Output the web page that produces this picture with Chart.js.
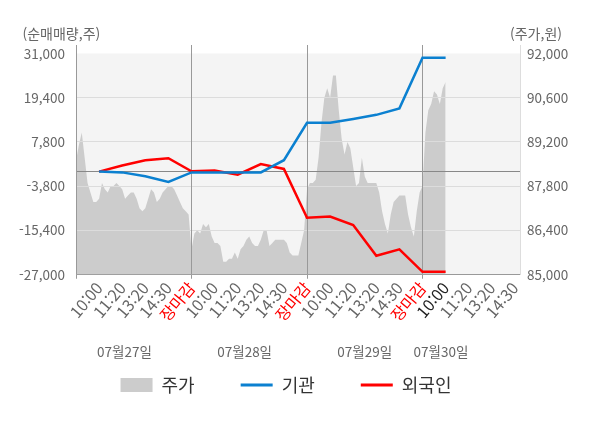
<!DOCTYPE html>
<html lang="ko">
<head>
<meta charset="utf-8">
<title>순매매량 / 주가</title>
<script src="https://cdn.jsdelivr.net/npm/chart.js@4.4.1/dist/chart.umd.min.js"></script>
<style>
    html, body { margin: 0; padding: 0; background: #fff; }
    #wrap { width: 600px; height: 428px; }
</style>
</head>
<body>
<div id="wrap"><canvas id="flowChart" width="600" height="428"></canvas></div>
<script>
// x axis: one unit per time slot, five slots per trading day
const slotLabels = ['', '10:00', '11:20', '13:20', '14:30', '장마감',
                    '10:00', '11:20', '13:20', '14:30', '장마감',
                    '10:00', '11:20', '13:20', '14:30', '장마감',
                    '10:00', '11:20', '13:20', '14:30'];
const closeLabel = '장마감';
const currentSlot = 16;
const dayLabels = ['07월27일', '07월28일', '07월29일', '07월30일'];
const dayLabelAt = [2.1, 7.3, 12.5, 15.8];

// net buying (주) per slot, 07/27 10:00 .. 07/30 10:00
const instNet = [0, -200, -1200, -2700, -200, -200, -200, -200,
                 3000, 12800, 12800, 13800, 14900, 16600, 29900, 29900];
const foreignNet = [0, 1600, 3000, 3500, 100, 300, -800, 2000,
                    700, -12100, -11800, -14000, -22100, -20400, -26300, -26300];

// price (원), one reading every 1/8 slot
const priceDay1 = [88600, 89100, 89500, 88700, 87900, 87600, 87300, 87300,
                   87400, 87900, 87700, 87600, 87800, 87800, 87900, 87800,
                   87700, 87400, 87500, 87600, 87600, 87400, 87100, 87000,
                   87100, 87400, 87700, 87600, 87300, 87400, 87600, 87700,
                   87800, 87800, 87700, 87500, 87300, 87100, 87000, 86900];
const priceDay2 = [85800, 86300, 86400, 86300, 86600, 86500, 86600, 86200,
                   86000, 86000, 85900, 85400, 85400, 85500, 85500, 85700,
                   85500, 85800, 85900, 86100, 86200, 86000, 85900, 85900,
                   86100, 86400, 86400, 85900, 86000, 86100, 86100, 86100,
                   86100, 86000, 85700, 85600, 85600, 85600, 86000, 86400];
const priceDay3 = [87700, 87900, 87900, 88000, 88700, 89800, 90600, 90900,
                   90600, 91300, 91300, 90200, 89300, 88800, 89200, 89000,
                   88400, 87800, 87900, 88700, 88100, 87900, 87900, 87900,
                   87900, 87600, 87000, 86600, 86300, 86900, 87300, 87400,
                   87500, 87500, 87500, 86900, 86500, 86200, 87000, 87600];
const priceDay4 = [87800, 89500, 90200, 90400, 90800, 90700, 90400, 90900, 91100];

const volTicks = [-27000, -15400, -3800, 0, 7800, 19400, 31000];
const priceTicks = [85000, 86400, 87800, 89200, 90600, 92000];

// layout / style
const slotsPerDay = 5;
const priceStep = 0.125;
const xMax = 19.22;
const headroom = 0.192;
const fontFamily = "'Noto Sans CJK KR', 'Noto Sans', sans-serif";
const blue = '#0b80d0';
const red = '#ff0000';

const topOf = ticks => ticks[ticks.length - 1] + (ticks[ticks.length - 1] - ticks[ticks.length - 2]) * headroom;
const linePoints = values => values.map((v, i) => ({ x: i + 1, y: v }));
const pricePoints = [priceDay1, priceDay2, priceDay3, priceDay4]
    .flatMap((day, d) => day.map((v, i) => ({ x: d * slotsPerDay + i * priceStep, y: v })));
const fmt = v => v.toLocaleString('en-US');

Chart.defaults.font.family = fontFamily;

// light plot background, starting at the top grid line
const plotBackground = {
    id: 'plotBackground',
    beforeDraw(chart) {
        const { ctx, chartArea: a, scales: { y } } = chart;
        const top = y.getPixelForValue(volTicks[volTicks.length - 1]);
        ctx.save();
        ctx.fillStyle = '#f4f4f4';
        ctx.fillRect(a.left, top, a.right - a.left, a.bottom - top);
        ctx.restore();
    }
};

// grid shows through the price area, lines stay on top
const gridOverPrice = {
    id: 'gridOverPrice',
    afterDatasetDraw(chart, args) {
        if (args.index !== 0) return;
        chart.scales.y.drawGrid(chart.chartArea);
        chart.scales.x.drawGrid(chart.chartArea);
    }
};

// unit captions above both y axes, day names under the time labels
const extraText = {
    id: 'extraText',
    afterDraw(chart) {
        const { ctx, chartArea: a, scales: { x } } = chart;
        ctx.save();
        ctx.font = '14px ' + fontFamily;
        ctx.fillStyle = '#666';
        ctx.textBaseline = 'middle';
        ctx.textAlign = 'left';
        ctx.fillText('(순매매량,주)', a.left - 53.5, a.top - 11);
        ctx.textAlign = 'right';
        ctx.fillText('(주가,원)', a.right + 42, a.top - 11);
        ctx.font = '13.5px ' + fontFamily;
        ctx.textAlign = 'center';
        dayLabels.forEach((t, i) => ctx.fillText(t, x.getPixelForValue(dayLabelAt[i]), a.bottom + 77.5));
        ctx.restore();
    }
};

new Chart(document.getElementById('flowChart'), {
    type: 'line',
    data: {
        datasets: [
            {
                label: '주가',
                data: pricePoints,
                yAxisID: 'y2',
                fill: 'start',
                backgroundColor: '#cccccc',
                borderColor: 'transparent',
                borderWidth: 0,
                pointRadius: 0,
                order: 3
            },
            {
                label: '기관',
                data: linePoints(instNet),
                yAxisID: 'y',
                borderColor: blue,
                borderWidth: 2.5,
                pointRadius: 0,
                fill: false,
                order: 1
            },
            {
                label: '외국인',
                data: linePoints(foreignNet),
                yAxisID: 'y',
                borderColor: red,
                borderWidth: 2.5,
                pointRadius: 0,
                fill: false,
                order: 2
            }
        ]
    },
    options: {
        responsive: false,
        animation: false,
        layout: { padding: { top: 45, right: 28, bottom: 24, left: 0 } },
        plugins: {
            tooltip: { enabled: false },
            legend: {
                position: 'bottom',
                labels: {
                    usePointStyle: true,
                    pointStyleWidth: 32,
                    boxHeight: 14,
                    padding: 46,
                    font: { family: fontFamily, size: 18 },
                    generateLabels: chart => chart.data.datasets.map((ds, i) => ({
                        text: ds.label,
                        datasetIndex: i,
                        fillStyle: ds.fill ? ds.backgroundColor : ds.borderColor,
                        strokeStyle: ds.fill ? ds.backgroundColor : ds.borderColor,
                        lineWidth: ds.fill ? 0 : 3,
                        pointStyle: ds.fill ? 'rect' : 'line',
                        fontColor: '#333',
                        hidden: false
                    }))
                }
            }
        },
        scales: {
            x: {
                type: 'linear',
                min: 0,
                max: xMax,
                afterBuildTicks: s => { s.ticks = slotLabels.map((_, i) => ({ value: i })); },
                afterFit: s => { s.height = 55.5; },
                grid: {
                    color: c => (c.tick && c.tick.value % slotsPerDay === 0) ? '#999' : 'transparent',
                    tickLength: 4
                },
                border: { color: '#999' },
                ticks: {
                    autoSkip: false,
                    minRotation: 50,
                    maxRotation: 50,
                    padding: 0,
                    font: { size: 16 },
                    color: c => c.index === currentSlot ? '#222'
                        : (slotLabels[c.index] === closeLabel ? red : '#666'),
                    callback: (v, i) => slotLabels[i]
                }
            },
            y: {
                position: 'left',
                min: volTicks[0],
                max: topOf(volTicks),
                afterBuildTicks: s => { s.ticks = volTicks.map(v => ({ value: v })); },
                afterFit: s => { s.width = 76; },
                grid: {
                    drawTicks: false,
                    color: c => {
                        const v = c.tick ? c.tick.value : null;
                        if (v === 0) return '#888';
                        if (v === volTicks[0] || v === volTicks[volTicks.length - 1]) return 'transparent';
                        return '#dcdcdc';
                    }
                },
                border: { color: '#999' },
                ticks: {
                    padding: 11,
                    font: { size: 13.5 },
                    color: '#666',
                    callback: v => v === 0 ? '' : fmt(v)
                }
            },
            y2: {
                position: 'right',
                min: priceTicks[0],
                max: topOf(priceTicks),
                afterBuildTicks: s => { s.ticks = priceTicks.map(v => ({ value: v })); },
                afterFit: s => { s.width = 52; },
                grid: { display: false, drawTicks: false },
                border: { color: '#dddddd' },
                ticks: {
                    padding: 7,
                    font: { size: 13.5 },
                    color: '#666',
                    callback: v => fmt(v)
                }
            }
        }
    },
    plugins: [plotBackground, gridOverPrice, extraText]
});
</script>
</body>
</html>
